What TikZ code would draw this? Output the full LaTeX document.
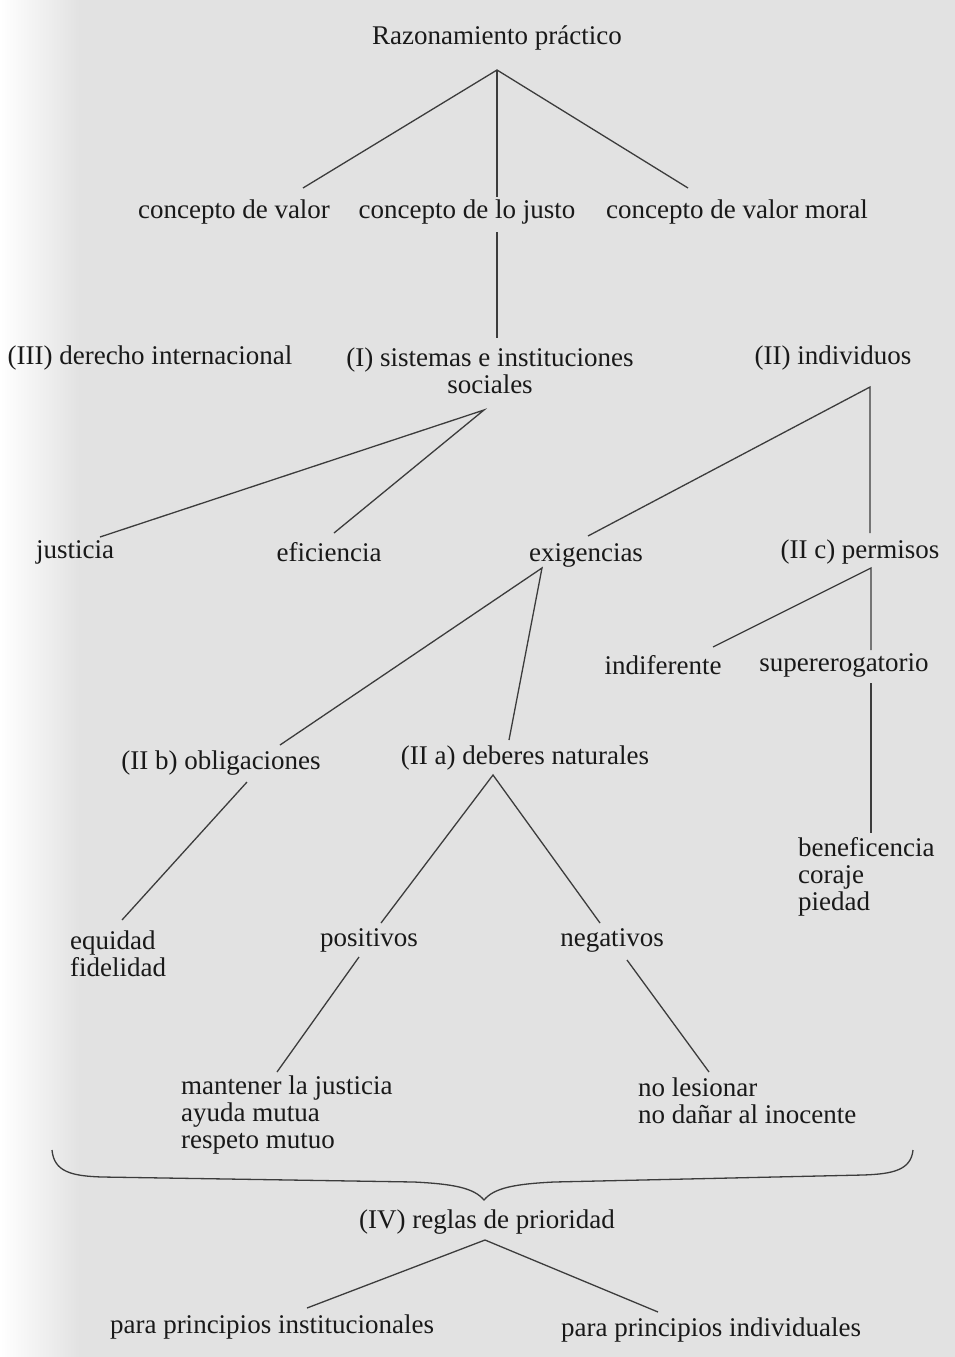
\documentclass[tikz,border=0pt]{standalone}
\usepackage{fontspec}
\setmainfont{Liberation Serif}
\usetikzlibrary{calc}
\definecolor{paper}{RGB}{226,226,226}
\definecolor{ink}{RGB}{25,25,25}
\tikzset{
  lbl/.style={inner sep=0pt, text=ink, font=\fontsize{27}{27}\selectfont},
  lst/.style={lbl, align=left, anchor=west},
  edge/.style={draw=ink!85, line width=1.3pt}
}
\begin{document}
\begin{tikzpicture}[x=1pt,y=-1pt]
\useasboundingbox (0,0) rectangle (955,1357);
\fill[paper] (0,0) rectangle (955,1357);
\shade[left color=white, right color=paper] (0,0) rectangle (80,1357);

% texts
\node[lbl] (razon) at (497,38) {Razonamiento práctico};
\node[lbl] (cvalor) at (234,212) {concepto de valor};
\node[lbl] (cjusto) at (467,212) {concepto de lo justo};
\node[lbl] (cmoral) at (737,212) {concepto de valor moral};
\node[lbl] (derecho) at (150,358) {(III) derecho internacional};
\node[lbl, align=center] (sistemas) at (490,371) {(I) sistemas e instituciones\\sociales};
\node[lbl] (individuos) at (833,358) {(II) individuos};
\node[lbl] (justicia) at (75,552) {justicia};
\node[lbl] (eficiencia) at (329,552) {eficiencia};
\node[lbl] (exigencias) at (586,555) {exigencias};
\node[lbl] (permisos) at (860,552) {(II c) permisos};
\node[lbl] (indiferente) at (663,665) {indiferente};
\node[lbl] (superer) at (844,665) {supererogatorio};
\node[lbl] (obligaciones) at (221,763) {(II b) obligaciones};
\node[lbl] (deberes) at (525,758) {(II a) deberes naturales};
\node[lst] (benef) at (798,877) {beneficencia\\coraje\\piedad};
\node[lst] (equidad) at (70,954) {equidad\\fidelidad};
\node[lbl] (positivos) at (369,940) {positivos};
\node[lbl] (negativos) at (612,940) {negativos};
\node[lst] (mantener) at (181,1115) {mantener la justicia\\ayuda mutua\\respeto mutuo};
\node[lst] (lesionar) at (638,1101) {no lesionar\\no dañar al inocente};
\node[lbl] (reglas) at (487,1222) {(IV) reglas de prioridad};
\node[lbl] (instit) at (272,1327) {para principios institucionales};
\node[lbl] (indiv) at (711,1330) {para principios individuales};

% connector points
\coordinate (r0) at (497,70);
\coordinate (r1) at (303,188);
\coordinate (r2) at (497,197);
\coordinate (r3) at (688,188);
\coordinate (j0) at (497,232);
\coordinate (j1) at (497,338);
\coordinate (s0) at (484,410);
\coordinate (s1) at (100,537);
\coordinate (s2) at (334,533);
\coordinate (i0) at (870,387);
\coordinate (i1) at (588,536);
\coordinate (i2) at (870,533);
\coordinate (e0) at (542,568);
\coordinate (e1) at (280,745);
\coordinate (e2) at (509,740);
\coordinate (p0) at (871,568);
\coordinate (p1) at (713,647);
\coordinate (p2) at (871,650);
\coordinate (u0) at (871,683);
\coordinate (u1) at (871,833);
\coordinate (o0) at (247,782);
\coordinate (o1) at (122,920);
\coordinate (d0) at (493,775);
\coordinate (d1) at (381,923);
\coordinate (d2) at (600,923);
\coordinate (q0) at (359,957);
\coordinate (q1) at (277,1072);
\coordinate (n0) at (627,960);
\coordinate (n1) at (709,1072);
\coordinate (g0) at (485,1240);
\coordinate (g1) at (307,1308);
\coordinate (g2) at (658,1312);
\coordinate (bL) at (52,1150);
\coordinate (bT) at (484,1200);
\coordinate (bR) at (913,1150);

\draw[edge] (r1) -- (r0) -- (r3);
\draw[edge] (r0) -- (r2);
\draw[edge] (j0) -- (j1);
\draw[edge] (s1) -- (s0) -- (s2);
\draw[edge] (i1) -- (i0) -- (i2);
\draw[edge] (e1) -- (e0) -- (e2);
\draw[edge] (p1) -- (p0) -- (p2);
\draw[edge] (u0) -- (u1);
\draw[edge] (o0) -- (o1);
\draw[edge] (d1) -- (d0) -- (d2);
\draw[edge] (q0) -- (q1);
\draw[edge] (n0) -- (n1);
\draw[edge] (g1) -- (g0) -- (g2);
% brace
\draw[edge] (bL) .. controls ($(bL)+(2,22)$) and ($(bL)+(20,26)$) .. ($(bL)+(50,27)$)
  -- ($(bT)+(-70,-18)$) .. controls ($(bT)+(-30,-16)$) and ($(bT)+(-10,-12)$) .. (bT)
  .. controls ($(bT)+(10,-12)$) and ($(bT)+(30,-16)$) .. ($(bT)+(70,-18)$)
  -- ($(bR)+(-50,25)$) .. controls ($(bR)+(-20,24)$) and ($(bR)+(-2,20)$) .. (bR);
\end{tikzpicture}
\end{document}
